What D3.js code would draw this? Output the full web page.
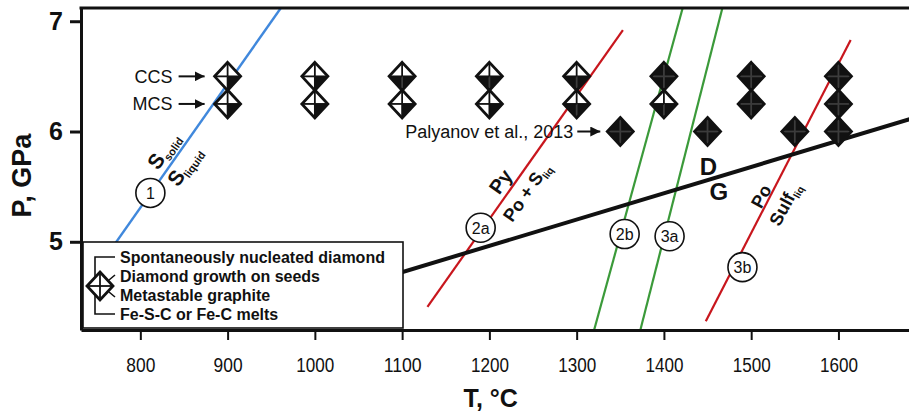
<!DOCTYPE html>
<html>
<head>
<meta charset="utf-8">
<script src="https://cdn.jsdelivr.net/npm/d3@7/dist/d3.min.js"></script>
<style>
  html, body { margin: 0; padding: 0; background: #fff; }
  svg { display: block; font-family: 'Liberation Sans', Arial, Helvetica, sans-serif; }
</style>
</head>
<body>
<svg id="chart" width="909" height="416"></svg>
<script>
/* axis ticks */
const tempTicks = [800, 900, 1000, 1100, 1200, 1300, 1400, 1500, 1600];
const pressureTicks = [5, 6, 7];

/* experiment symbols, quadrant fills: [upper-left, upper-right, lower-right, lower-left], 1 = black */
const ccsTemps = [900, 1000, 1100, 1200, 1300, 1400, 1500, 1600];
const ccsPressure = 6.5;
const ccsFills = [
  [0, 0, 1, 0], [0, 0, 1, 0], [0, 0, 1, 1], [0, 0, 1, 1],
  [0, 0, 1, 1], [1, 1, 1, 1], [1, 1, 1, 1], [1, 1, 1, 1]
];
const mcsTemps = [900, 1000, 1100, 1200, 1300, 1400, 1500, 1600];
const mcsPressure = 6.25;
const mcsFills = [
  [0, 0, 1, 0], [0, 0, 1, 0], [0, 0, 1, 0], [0, 0, 1, 0],
  [0, 0, 1, 1], [0, 0, 1, 1], [1, 1, 1, 1], [1, 1, 1, 1]
];
const palyanovTemps = [1350, 1450, 1550, 1600];
const palyanovPressure = 6.0;

/* phase boundaries, [T, P] end points */
const sulfurMelting = [[737, 4.6], [961, 7.12]];
const pyriteBreakdown = [[1129, 4.41], [1353, 6.92]];
const line2b = [[1320, 4.2], [1421.5, 7.12]];
const line3a = [[1373, 4.2], [1467, 7.12]];
const sulfideMelting = [[1448, 4.28], [1614, 6.83]];
const diamondGraphite = [[1000, 4.486], [1682, 6.113]];

/* circled reaction numbers */
const reactionIds = ['1', '2a', '2b', '3a', '3b'];
const reactionTemps = [811.5, 1190, 1355, 1406.5, 1490];
const reactionPressures = [5.443, 5.127, 5.07, 5.05, 4.77];

const legendItems = [
  'Spontaneously nucleated diamond',
  'Diamond growth on seeds',
  'Metastable graphite',
  'Fe-S-C or Fe-C melts'
];

function drawChart(id) {
  const svg = d3.select(id);
  const plot = { left: 81, top: 8, right: 910, bottom: 330 };
  const INK = '#111';

  const x = d3.scaleLinear().domain([732, 1682]).range([plot.left, plot.right]);
  const y = d3.scaleLinear().domain([4.2, 7.12]).range([plot.bottom, plot.top]);

  const defs = svg.append('defs');
  defs.append('clipPath')
    .attr('id', 'plot-clip')
    .append('rect')
    .attr('x', plot.left)
    .attr('y', plot.top)
    .attr('width', plot.right - plot.left)
    .attr('height', plot.bottom - plot.top);
  defs.append('marker')
    .attr('id', 'arrow-head')
    .attr('viewBox', '0 0 10 10')
    .attr('refX', 10)
    .attr('refY', 5)
    .attr('markerUnits', 'userSpaceOnUse')
    .attr('markerWidth', 10)
    .attr('markerHeight', 10)
    .attr('orient', 'auto')
    .append('path')
    .attr('d', 'M0,0 L10,5 L0,10 Z')
    .attr('fill', INK);

  /* boundary lines */
  const line = d3.line()
    .x(function (d) { return x(d[0]); })
    .y(function (d) { return y(d[1]); });

  const lines = svg.append('g').attr('clip-path', 'url(#plot-clip)');
  [
    [sulfurMelting, '#4088dc', 2.4],
    [pyriteBreakdown, '#c8161d', 2.2],
    [line2b, '#3b9a3a', 2.2],
    [line3a, '#3b9a3a', 2.2],
    [sulfideMelting, '#c8161d', 2.2],
    [diamondGraphite, INK, 4]
  ].forEach(function (l) {
    lines.append('path')
      .attr('d', line(l[0]))
      .attr('fill', 'none')
      .attr('stroke', l[1])
      .attr('stroke-width', l[2]);
  });

  /* axes */
  const leftAxis = d3.axisLeft(y)
    .tickValues(pressureTicks)
    .tickSize(11)
    .tickSizeOuter(0)
    .tickPadding(7)
    .tickFormat(d3.format('d'));
  const gy = svg.append('g')
    .attr('transform', `translate(${plot.left}, 0)`)
    .call(leftAxis);
  gy.select('.domain').attr('stroke', INK).attr('stroke-width', 3);
  gy.selectAll('.tick line').attr('stroke', INK).attr('stroke-width', 3);
  gy.selectAll('.tick text')
    .attr('fill', INK)
    .attr('font-size', 25)
    .attr('font-weight', 'bold')
    .attr('font-family', 'Liberation Sans, Arial, sans-serif');

  const bottomAxis = d3.axisBottom(x)
    .tickValues(tempTicks)
    .tickSize(10)
    .tickSizeOuter(0)
    .tickPadding(18)
    .tickFormat(d3.format('d'));
  const gx = svg.append('g')
    .attr('transform', `translate(0, ${plot.bottom})`)
    .call(bottomAxis);
  gx.select('.domain').attr('stroke', INK).attr('stroke-width', 3);
  gx.selectAll('.tick line').attr('stroke', INK).attr('stroke-width', 2);
  gx.selectAll('.tick text')
    .attr('fill', INK)
    .attr('font-size', 20)
    .attr('font-family', 'Liberation Sans Narrow, Liberation Sans, Arial, sans-serif')
    .attr('textLength', function (d) { return d >= 1000 ? 38 : 29; })
    .attr('lengthAdjust', 'spacingAndGlyphs');

  svg.append('line')
    .attr('x1', plot.left - 1.5)
    .attr('x2', plot.right)
    .attr('y1', plot.top)
    .attr('y2', plot.top)
    .attr('stroke', INK)
    .attr('stroke-width', 3);

  svg.append('text')
    .attr('x', x(1300) - 86)
    .attr('y', 407)
    .attr('text-anchor', 'middle')
    .attr('font-size', 25)
    .attr('font-weight', 'bold')
    .attr('fill', INK)
    .text('T, °C');

  svg.append('text')
    .attr('transform', `translate(31, ${y(5.6)}) rotate(-90)`)
    .attr('text-anchor', 'middle')
    .attr('font-size', 27)
    .attr('font-weight', 'bold')
    .attr('fill', INK)
    .text('P, GPa');

  /* legend box */
  const legend = svg.append('g');
  legend.append('rect')
    .attr('x', 83)
    .attr('y', 242)
    .attr('width', 320)
    .attr('height', 86)
    .attr('fill', '#fff')
    .attr('stroke', INK)
    .attr('stroke-width', 1.6);
  legend.append('path')
    .attr('d', 'M115,257 H95 V314 H115 M109,280 L115,275 M109,292 L115,297')
    .attr('fill', 'none')
    .attr('stroke', INK)
    .attr('stroke-width', 1.6);
  drawSymbol(legend.append('g').attr('transform', 'translate(100, 286)'), [0, 0, 0, 0]);
  legend.selectAll('.legend-item')
    .data(legendItems)
    .enter()
    .append('text')
    .attr('class', 'legend-item')
    .attr('x', 120)
    .attr('y', function (d, i) { return 257 + i * 19; })
    .attr('dy', '0.36em')
    .attr('font-size', 16)
    .attr('font-weight', 'bold')
    .attr('fill', INK)
    .text(function (d) { return d; });

  /* circled reaction numbers */
  const circles = svg.append('g')
    .selectAll('.reaction')
    .data(reactionIds)
    .enter()
    .append('g')
    .attr('class', 'reaction')
    .attr('transform', function (d, i) {
      return `translate(${x(reactionTemps[i])}, ${y(reactionPressures[i])})`;
    });
  circles.append('circle')
    .attr('r', 14.5)
    .attr('fill', '#fff')
    .attr('stroke', INK)
    .attr('stroke-width', 1.6);
  circles.append('text')
    .attr('text-anchor', 'middle')
    .attr('dy', '0.36em')
    .attr('font-size', 16)
    .attr('fill', INK)
    .text(function (d) { return d; });

  /* line annotations */
  function label(t, p, angle, parts) {
    const txt = svg.append('text')
      .attr('transform', `translate(${x(t)}, ${y(p)}) rotate(${angle})`)
      .attr('text-anchor', 'middle')
      .attr('dy', '0.36em')
      .attr('font-weight', 'bold')
      .attr('fill', INK);
    parts.forEach(function (part) {
      const ts = txt.append('tspan').attr('font-size', part[1]).text(part[0]);
      if (part[2]) ts.attr('dy', part[2]);
    });
  }
  label(828, 5.82, -55, [['S', 21], ['solid', 11, 4]]);
  label(852, 5.68, -55, [['S', 21], ['liquid', 11, 4]]);
  label(1214, 5.54, -55, [['Py', 20]]);
  label(1243, 5.45, -55, [['Po + S', 18], ['liq', 10, 4]]);
  label(1451, 5.66, 0, [['D', 24]]);
  label(1463, 5.43, 0, [['G', 24]]);
  label(1512, 5.41, -62, [['Po', 18]]);
  label(1539, 5.34, -62, [['Sulf', 18], ['liq', 10, 4]]);

  /* arrows with labels */
  [['CCS', ccsPressure], ['MCS', mcsPressure]].forEach(function (a) {
    svg.append('text')
      .attr('x', x(900) - 55)
      .attr('y', y(a[1]))
      .attr('dy', '0.36em')
      .attr('text-anchor', 'end')
      .attr('font-size', 18)
      .attr('fill', INK)
      .text(a[0]);
    svg.append('line')
      .attr('x1', x(900) - 49)
      .attr('x2', x(900) - 23)
      .attr('y1', y(a[1]))
      .attr('y2', y(a[1]))
      .attr('stroke', INK)
      .attr('stroke-width', 2)
      .attr('marker-end', 'url(#arrow-head)');
  });
  svg.append('text')
    .attr('x', x(palyanovTemps[0]) - 47)
    .attr('y', y(palyanovPressure))
    .attr('dy', '0.36em')
    .attr('text-anchor', 'end')
    .attr('font-size', 18)
    .attr('fill', INK)
    .text('Palyanov et al., 2013');
  svg.append('line')
    .attr('x1', x(palyanovTemps[0]) - 43)
    .attr('x2', x(palyanovTemps[0]) - 20)
    .attr('y1', y(palyanovPressure))
    .attr('y2', y(palyanovPressure))
    .attr('stroke', INK)
    .attr('stroke-width', 2)
    .attr('marker-end', 'url(#arrow-head)');

  /* experiment symbols */
  const symbols = []
    .concat(ccsTemps.map(function (t, i) { return { t: t, p: ccsPressure, q: ccsFills[i] }; }))
    .concat(mcsTemps.map(function (t, i) { return { t: t, p: mcsPressure, q: mcsFills[i] }; }))
    .concat(palyanovTemps.map(function (t) { return { t: t, p: palyanovPressure, q: [1, 1, 1, 1] }; }));

  svg.append('g')
    .selectAll('.symbol')
    .data(symbols)
    .enter()
    .append('g')
    .attr('class', 'symbol')
    .attr('transform', function (d) { return `translate(${x(d.t)}, ${y(d.p)})`; })
    .each(function (d) {
      drawSymbol(d3.select(this), d.q);
    });

  function drawSymbol(g, q) {
    const hw = 13;
    const hh = 14;
    const quads = [
      `M0,0 L${-hw},0 L0,${-hh} Z`,
      `M0,0 L0,${-hh} L${hw},0 Z`,
      `M0,0 L${hw},0 L0,${hh} Z`,
      `M0,0 L0,${hh} L${-hw},0 Z`
    ];
    quads.forEach(function (d, i) {
      g.append('path')
        .attr('d', d)
        .attr('fill', q[i] ? INK : '#fff');
    });
    // arms: up, right, down, left, each between two quadrants
    const arms = [[0, -hh, 0, 1], [hw, 0, 1, 2], [0, hh, 2, 3], [-hw, 0, 3, 0]];
    arms.forEach(function (a) {
      g.append('line')
        .attr('x1', 0)
        .attr('y1', 0)
        .attr('x2', a[0])
        .attr('y2', a[1])
        .attr('stroke', q[a[2]] && q[a[3]] ? '#3c3c3c' : INK)
        .attr('stroke-width', 1.8);
    });
    g.append('path')
      .attr('d', `M0,${-hh} L${hw},0 L0,${hh} L${-hw},0 Z`)
      .attr('fill', 'none')
      .attr('stroke', INK)
      .attr('stroke-width', 2.8)
      .attr('stroke-linejoin', 'miter');
  }
}

drawChart('#chart');
</script>
</body>
</html>
